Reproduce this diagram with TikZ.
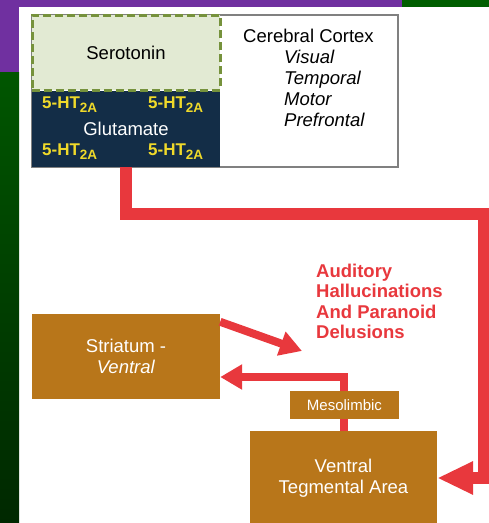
\documentclass[tikz,border=0pt]{standalone}
\usepackage{fontspec}
\setmainfont{Liberation Sans}
\usetikzlibrary{arrows.meta,positioning}

\definecolor{slidepurple}{HTML}{7030A0}
\definecolor{slidegreen}{HTML}{005E00}
\definecolor{sidegreentop}{HTML}{005600}
\definecolor{sidegreenbot}{HTML}{002800}
\definecolor{framegray}{HTML}{808080}
\definecolor{serofill}{HTML}{E2EAD3}
\definecolor{serodash}{HTML}{76923C}
\definecolor{glutnavy}{HTML}{132D47}
\definecolor{receptor}{HTML}{F0DA2A}
\definecolor{nucleus}{HTML}{B8761A}
\definecolor{tract}{HTML}{E8383D}

\newcommand{\fivehttwoa}{5-HT\raisebox{-4pt}{\fontsize{13.5}{13.5}\selectfont 2A}}

\begin{document}
\begin{tikzpicture}[
  x=1pt,
  y=-1pt,
  nucleusbox/.style={
    rectangle,
    fill=nucleus,
    text=white,
    align=center,
    inner sep=0pt,
    font=\fontsize{18.5}{21}\selectfont
  },
  receptorlabel/.style={
    anchor=base west,
    inner sep=0pt,
    text=receptor,
    font=\bfseries\fontsize{17}{17}\selectfont
  },
  plaintext/.style={
    inner sep=0pt,
    font=\fontsize{18.5}{21}\selectfont
  },
  pathway/.style={draw=tract, line width=12pt, line join=miter, -{Triangle[length=36pt,width=31pt]}},
  thinpath/.style={draw=tract, line width=8pt, line join=miter, -{Triangle[length=22pt,width=24pt]}}
]
\useasboundingbox (0,0) rectangle (489,523);

% slide background
\fill[slidepurple] (0,0) rectangle (402,7);
\fill[slidepurple] (0,0) rectangle (19,72);
\fill[slidegreen] (402,0) rectangle (489,7);
\shade[top color=sidegreentop, bottom color=sidegreenbot] (0,72) rectangle (19,523);

% cortex panel
\node[draw=framegray, line width=1.5pt, fill=white, minimum width=366pt, minimum height=152pt, inner sep=0pt] (cortexbox) at (215,91) {};
\node[rectangle, fill=glutnavy, text=white, minimum width=188pt, minimum height=76pt, inner sep=0pt,
  font=\fontsize{18.5}{21}\selectfont] (glutamate) at (126,129)
  {Glutamate};
\node[rectangle, fill=serofill, draw=serodash, line width=3pt, dash pattern=on 8pt off 4pt,
  minimum width=188pt, minimum height=75pt, inner sep=0pt, font=\fontsize{18.5}{21}\selectfont] (serotonin) at (126,52.5)
  {Serotonin};

\node[receptorlabel] (ht-nw) at (42,108) {\fivehttwoa};
\node[receptorlabel] (ht-ne) at (148,108) {\fivehttwoa};
\node[receptorlabel] (ht-sw) at (42,155) {\fivehttwoa};
\node[receptorlabel] (ht-se) at (148,155) {\fivehttwoa};

\node[plaintext, anchor=base] (cortex) at (308.5,42.5) {Cerebral Cortex};
\node[plaintext, anchor=north west, align=left, font=\itshape\fontsize{18.5}{21}\selectfont] (regions) at (284,49.5)
  {Visual\\Temporal\\Motor\\Prefrontal};

% midbrain / striatum
\node[nucleusbox, minimum width=188pt, minimum height=85pt] (striatum) at (126,356.5)
  {Striatum -\\\textit{Ventral}};
\node[nucleusbox, minimum width=187pt, minimum height=94pt] (vta) at (343.5,478)
  {Ventral\\Tegmental Area};

\node[anchor=north west, align=left, inner sep=0pt, text=tract, font=\bfseries\fontsize{18.5}{20.5}\selectfont] (halluc) at (316,263.5)
  {Auditory\\Hallucinations\\And Paranoid\\Delusions};

% tracts
\coordinate (cortex-turn) at (483.5,213.5);
\coordinate (meso-bend) at (343.5,377);

\draw[pathway] (glutamate.south) |- (cortex-turn) |- (vta.east);
\draw[thinpath] ([yshift=-8pt]striatum.north east) -- ([xshift=-14pt,yshift=-12pt]halluc.south west);
\draw[thinpath] (vta.north) -- (meso-bend) -- (meso-bend -| striatum.east);

\node[nucleusbox, minimum width=109pt, minimum height=28pt, font=\fontsize{15}{15}\selectfont] (mesolimbic) at (344.5,405)
  {Mesolimbic};
\end{tikzpicture}
\end{document}
